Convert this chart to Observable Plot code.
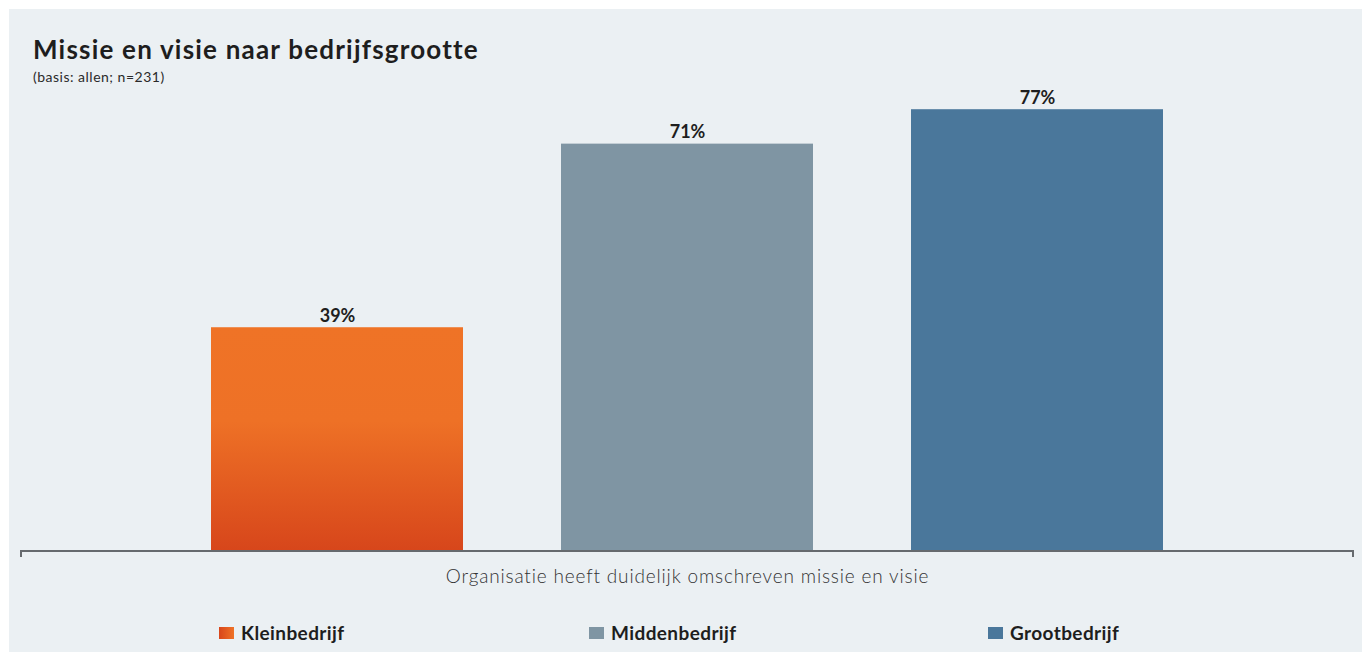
<!DOCTYPE html>
<html>
<head>
<meta charset="utf-8">
<script src="https://cdn.jsdelivr.net/npm/d3@7"></script>
<script src="https://cdn.jsdelivr.net/npm/@observablehq/plot@0.6"></script>
<style>
  html, body { margin: 0; padding: 0; background: #ffffff; width: 1362px; height: 652px; overflow: hidden; font-family: Lato, "Open Sans", sans-serif; }
  #panel { position: absolute; left: 9px; top: 9px; width: 1353px; height: 643px; background: #ebf0f3; }
  #title { position: absolute; left: 33px; top: 36px; font-size: 26px; line-height: 1; font-weight: 700; letter-spacing: 1.2px; color: #1e1e1e; white-space: nowrap; }
  #subtitle { position: absolute; left: 33px; top: 70px; font-size: 14px; line-height: 1; font-weight: 400; letter-spacing: 0.5px; color: #2a2a2a; white-space: nowrap; }
  #chart { position: absolute; left: 0; top: 60px; }
  #legend { position: absolute; left: 219px; top: 623px; display: grid; grid-template-columns: 370px 399px auto; align-items: center; }
  .item { display: flex; align-items: center; font-size: 19px; font-weight: 700; letter-spacing: 0.4px; color: #1e1e1e; line-height: 1; white-space: nowrap; }
  .sw { width: 15px; height: 12px; margin-right: 7px; }
</style>
</head>
<body>
<div id="panel"></div>
<div id="title"></div>
<div id="subtitle"></div>
<div id="chart"></div>
<div id="legend"></div>
<script>
const titleText = "Missie en visie naar bedrijfsgrootte";
const subtitleText = "(basis: allen; n=231)";
const categories = ["Organisatie heeft duidelijk omschreven missie en visie"];
const series = ["Kleinbedrijf", "Middenbedrijf", "Grootbedrijf"];
const values = [39, 71, 77];
const colors = ["url(#kleinGrad)", "#7f95a3", "#4a779b"];
const legendSwatches = ["linear-gradient(to right, #d8461b, #ef7226)", "#7f95a3", "#4a779b"];

document.getElementById("title").textContent = titleText;
document.getElementById("subtitle").textContent = subtitleText;

const data = series.map((s, i) => ({series: s, value: values[i]}));

const defsMark = () => {
  const defs = d3.create("svg:defs");
  const g = defs.append("linearGradient").attr("id", "kleinGrad").attr("x1", 0).attr("y1", 0).attr("x2", 0).attr("y2", 1);
  g.append("stop").attr("offset", "0%").attr("stop-color", "#ef7326");
  g.append("stop").attr("offset", "42%").attr("stop-color", "#ee7126");
  g.append("stop").attr("offset", "100%").attr("stop-color", "#d7461b");
  return defs.node();
};

const endTicks = (index, scales, values, dim) => {
  const y0 = scales.y(0);
  const x0 = dim.marginLeft, x1 = dim.width - dim.marginRight;
  const g = d3.create("svg:path")
    .attr("d", `M${x0},${y0 + 6}V${y0}H${x1}V${y0 + 6}`)
    .attr("fill", "none").attr("stroke", "#666a6e").attr("stroke-width", 2);
  return g.node();
};

const chart = Plot.plot({
  width: 1362,
  height: 540,
  marginLeft: 21,
  marginRight: 9,
  marginTop: 32,
  marginBottom: 49,
  style: {background: "transparent", overflow: "visible", fontFamily: "Lato, 'Open Sans', sans-serif"},
  x: {domain: series, paddingInner: 0.28, paddingOuter: 0.5375, axis: null},
  y: {domain: [0, 80], axis: null},
  color: {domain: series, range: colors},
  marks: [
    defsMark,
    Plot.barY(data, {x: "series", y: "value", fill: "series"}),
    Plot.text(data, {x: "series", y: "value", text: d => d.value + "%", dy: -6, lineAnchor: "bottom", fontSize: 18, fontWeight: 700, fill: "#1e1e1e"}),
    endTicks,
    Plot.text(categories, {frameAnchor: "bottom", text: d => d, lineAnchor: "top", dy: 18, fontSize: 19, fontWeight: 300, fill: "#333333"})
  ]
});
d3.select(chart).selectAll("text")
  .filter(function() { return categories.includes(this.textContent); })
  .style("letter-spacing", "0.83px");
document.getElementById("chart").appendChild(chart);

const legend = document.getElementById("legend");
series.forEach((s, i) => {
  const item = document.createElement("div");
  item.className = "item";
  const sw = document.createElement("span");
  sw.className = "sw";
  sw.style.background = legendSwatches[i];
  const label = document.createElement("span");
  label.textContent = s;
  item.appendChild(sw);
  item.appendChild(label);
  legend.appendChild(item);
});
</script>
</body>
</html>
